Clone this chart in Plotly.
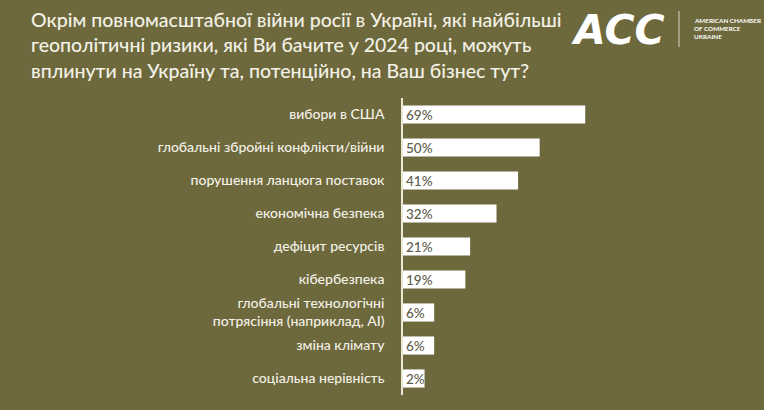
import plotly.graph_objects as go

# survey answers, top to bottom
risks = [
    "вибори в США",
    "глобальні збройні конфлікти/війни",
    "порушення ланцюга поставок",
    "економічна безпека",
    "дефіцит ресурсів",
    "кібербезпека",
    "глобальні технологічні<br>потрясіння (наприклад, AI)",
    "зміна клімату",
    "соціальна нерівність",
]
shares = [69, 50, 41, 32, 21, 19, 6, 6, 2]
share_labels = [f"{v}%" for v in shares]

title_lines = [
    "Окрім повномасштабної війни росії в Україні, які найбільші",
    "геополітичні ризики, які Ви бачите у 2024 році, можуть",
    "вплинути на Україну та, потенційно, на Ваш бізнес тут?",
]
org_lines = ["AMERICAN CHAMBER", "OF COMMERCE", "UKRAINE"]

BG = "#6d693d"
CREAM = "#f3f1e6"
# bars start a few points left of zero so the small values still hold a label
STEM = 7

W, H = 764, 410
LEFT, RIGHT, TOP, BOTTOM = 403, 162, 98, 15
plot_w = W - LEFT - RIGHT
plot_h = H - TOP - BOTTOM


def px(x):
    return (x - LEFT) / plot_w


def py(y):
    return (H - BOTTOM - y) / plot_h


fig = go.Figure(
    go.Bar(
        y=risks,
        x=[v + STEM for v in shares],
        base=-STEM,
        orientation="h",
        marker=dict(color="white", line=dict(width=0)),
        text=share_labels,
        textposition="inside",
        insidetextanchor="start",
        textangle=0,
        constraintext="none",
        textfont=dict(family="Lato", size=13.5, color="#5e5c4a", weight=500),
        hoverinfo="skip",
    )
)

fig.update_layout(
    width=W,
    height=H,
    margin=dict(l=LEFT, r=RIGHT, t=TOP, b=BOTTOM),
    paper_bgcolor=BG,
    plot_bgcolor=BG,
    showlegend=False,
    bargap=0.45,
    font=dict(family="Lato", color=CREAM),
    xaxis=dict(
        range=[-STEM, 76],
        visible=False,
        fixedrange=True,
    ),
    yaxis=dict(
        autorange="reversed",
        showline=True,
        linecolor="#ebe8d6",
        linewidth=1.5,
        showgrid=False,
        zeroline=False,
        ticks="",
        ticklabelstandoff=14,
        tickfont=dict(family="Lato", size=14, color=CREAM, weight=500),
        fixedrange=True,
    ),
)

# question as a three line heading
fig.add_annotation(
    text="<br>".join(title_lines),
    xref="paper", yref="paper",
    x=px(29), y=py(6),
    xanchor="left", yanchor="top",
    align="left",
    showarrow=False,
    font=dict(family="Lato", size=19.5, color=CREAM, weight=500),
)

# AmCham logo
fig.add_annotation(
    text="ACC",
    xref="paper", yref="paper",
    x=px(569), y=py(30),
    xanchor="left", yanchor="middle",
    showarrow=False,
    font=dict(family="DejaVu Sans", size=41, color="white",
              weight="bold", style="italic"),
)
fig.add_shape(
    type="line",
    xref="paper", yref="paper",
    x0=px(679), x1=px(679), y0=py(11), y1=py(47),
    line=dict(color="#d9d6c4", width=1),
)
for i, line in enumerate(org_lines):
    fig.add_annotation(
        text=f"<b>{line}</b>",
        xref="paper", yref="paper",
        x=px(692), y=py(20 + 8.5 * i),
        xanchor="left", yanchor="middle",
        showarrow=False,
        font=dict(family="Lato", size=6.3, color="white"),
    )

fig.write_html(
    "out.html",
    config={"displayModeBar": False},
    post_script="document.body.style.margin = '0';",
)
